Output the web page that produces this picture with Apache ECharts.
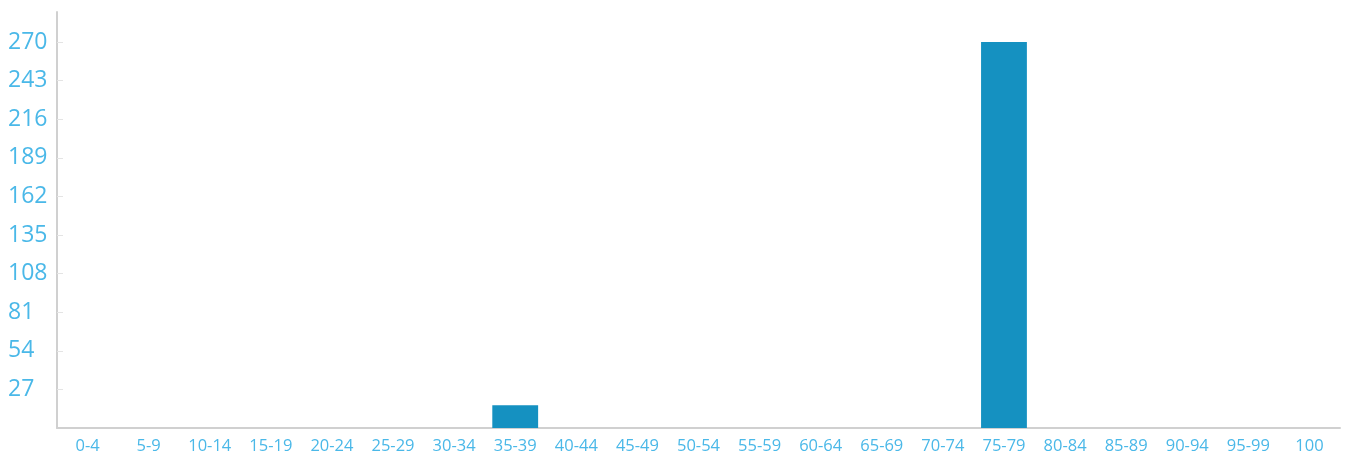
<!DOCTYPE html>
<html><head><meta charset="utf-8">
<script src="https://cdn.jsdelivr.net/npm/echarts@6/dist/echarts.min.js"></script>
<style>html,body{margin:0;padding:0;background:#fff}#c{width:1350px;height:458px}</style>
</head><body><div id="c"></div>
<script>
const categories = ["0-4","5-9","10-14","15-19","20-24","25-29","30-34","35-39","40-44","45-49","50-54","55-59","60-64","65-69","70-74","75-79","80-84","85-89","90-94","95-99","100"];
const values = [0,0,0,0,0,0,0,16,0,0,0,0,0,0,0,270,0,0,0,0,0];
const yTickStep = 27;
const yMax = 291;

const chart = echarts.init(document.getElementById('c'));
chart.setOption({
  animation: false,
  grid: {left: 57, right: 10, top: 12, bottom: 30, containLabel: false},
  xAxis: {
    type: 'category', data: categories,
    axisLine: {lineStyle: {color: '#d0d0d0', width: 2}},
    axisTick: {show: false},
    axisLabel: {color: '#4ab8e8', fontSize: 16.5, fontFamily: 'Open Sans', interval: 0, margin: 10}
  },
  yAxis: {
    type: 'value', min: 0, max: yMax, interval: yTickStep,
    axisLine: {show: true, lineStyle: {color: '#d0d0d0', width: 2}},
    axisTick: {show: true, inside: true, length: 6, lineStyle: {color: '#e4e4e4'}},
    splitLine: {show: false},
    axisLabel: {color: '#4ab8e8', fontSize: 23, fontWeight: 500, fontFamily: 'Open Sans', margin: 49, align: 'left',
      showMinLabel: false, showMaxLabel: false,
      formatter: v => (v % yTickStep === 0 && v > 0) ? String(v) : ''}
  },
  series: [{
    type: 'bar', data: values, barCategoryGap: '25%',
    itemStyle: {color: '#1591c1'}
  }]
});
</script></body></html>
